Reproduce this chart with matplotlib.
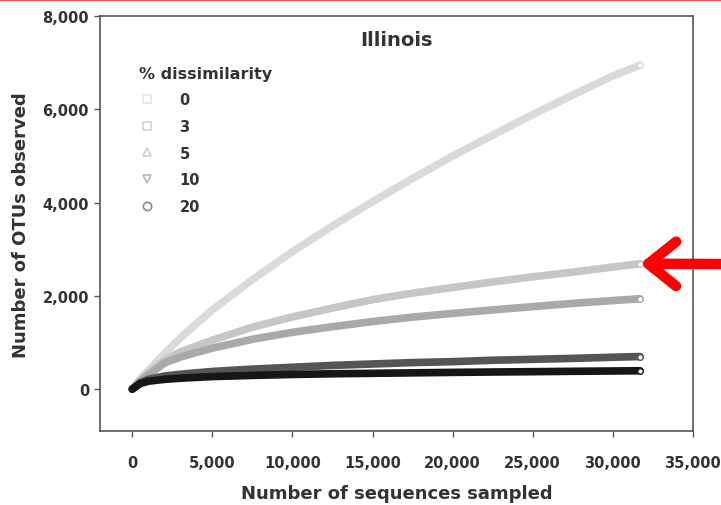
import numpy as np
import matplotlib.pyplot as plt
from matplotlib.lines import Line2D
from matplotlib.ticker import FuncFormatter

plt.rcParams['font.family'] = ['DejaVu Sans']
plt.rcParams['font.weight'] = 'bold'

# sequences sampled (x) and OTUs observed per % dissimilarity
seqs = [0, 500, 1000, 2000, 3000, 5000, 7500, 10000, 12500, 15000,
        17500, 20000, 22500, 25000, 27500, 30000, 31700]
otu_0 = [0, 220, 400, 760, 1100, 1700, 2350, 2950, 3500, 4020,
         4520, 5000, 5450, 5890, 6310, 6720, 6950]
otu_3 = [0, 190, 340, 620, 800, 1050, 1330, 1550, 1740, 1920,
         2060, 2180, 2300, 2410, 2510, 2620, 2690]
otu_5 = [0, 170, 300, 560, 690, 880, 1070, 1220, 1340, 1450,
         1545, 1625, 1700, 1770, 1840, 1900, 1940]
otu_10 = [0, 140, 210, 280, 320, 380, 430, 470, 510, 540,
          570, 590, 620, 640, 660, 685, 700]
otu_20 = [0, 120, 170, 210, 235, 270, 295, 315, 330, 340,
          350, 360, 368, 375, 383, 390, 395]

labels = ['0', '3', '5', '10', '20']
series = [otu_0, otu_3, otu_5, otu_10, otu_20]
colors = ['#dadada', '#c6c6c6', '#a9a9a9', '#555555', '#161616']
leg_markers = ['s', 's', '^', 'v', 'o']
leg_colors = ['#e6e6e6', '#d6d6d6', '#cfcfcf', '#b5b5b5', '#8a8a8a']

fig = plt.figure(figsize=(7.21, 5.06), dpi=100)
ax = fig.add_axes([0.139, 0.146, 0.822, 0.820])

# thick bands, open marker at the last point
for y, c in zip(series, colors):
    ax.plot(seqs, y, color=c, lw=5.5, solid_capstyle='round',
            marker='o', markevery=[-1], ms=4, mfc='white', mec=c, mew=1)

ax.set_xlim(-2000, 35000)
ax.set_ylim(-900, 8000)
ax.set_xticks(np.arange(0, 35001, 5000))
ax.set_yticks(np.arange(0, 8001, 2000))
fmt = FuncFormatter(lambda v, p: f'{int(v):,}')
ax.xaxis.set_major_formatter(fmt)
ax.yaxis.set_major_formatter(fmt)
ax.tick_params(direction='out', length=4, width=1, color='#555555',
               labelsize=10.5, labelcolor='#333333')
ax.tick_params(axis='x', pad=13)
ax.tick_params(axis='y', pad=4)
for s in ax.spines.values():
    s.set_color('#555555')
    s.set_linewidth(1.2)

ax.set_xlabel('Number of sequences sampled', fontsize=13, fontweight='bold',
              color='#333333', labelpad=10)
ax.set_ylabel('Number of OTUs observed', fontsize=13, fontweight='bold',
              color='#333333', labelpad=9)
ax.text(0.5, 0.945, 'Illinois', transform=ax.transAxes, ha='center', va='center',
        fontsize=14, fontweight='bold', color='#333333')

handles = [Line2D([], [], ls='none', marker=m, ms=6, mfc='none', mec=c, mew=1.2)
           for m, c in zip(leg_markers, leg_colors)]
leg = ax.legend(handles, labels, title='% dissimilarity', loc='upper left',
                bbox_to_anchor=(0.055, 0.895), frameon=False, fontsize=10.5,
                title_fontsize=11.5, labelspacing=0.8, handletextpad=1.6,
                handlelength=1.2, borderaxespad=0)
leg._legend_box.align = 'left'
leg.get_title().set_fontweight('bold')
leg.get_title().set_color('#333333')
for t in leg.get_texts():
    t.set_color('#333333')

# red arrow pointing at the 3% curve
ax.annotate('', xy=(31700, 2690), xycoords='data',
            xytext=(735, 241), textcoords='figure pixels',
            arrowprops=dict(arrowstyle='->,head_length=1.0,head_width=0.8',
                            color='#ff0000', lw=7.5, mutation_scale=20,
                            shrinkA=0, shrinkB=0,
                            capstyle='round', joinstyle='round'),
            annotation_clip=False)

# thin red line along the top edge
fig.add_artist(Line2D([0, 1], [0.998, 0.998], transform=fig.transFigure,
                      color='#ff5555', lw=1.5))

fig.savefig('out.png', dpi=100)
